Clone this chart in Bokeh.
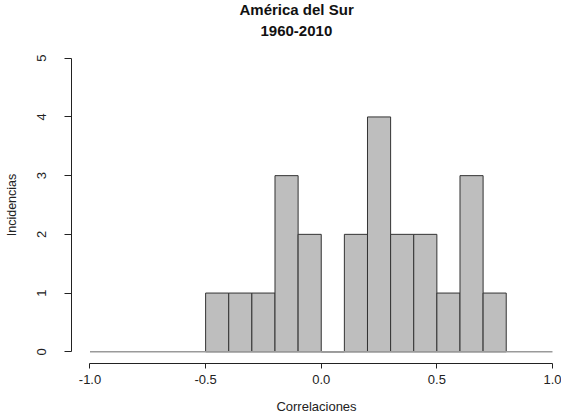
from bokeh.plotting import figure
from bokeh.models import Range1d, FixedTicker, Title
from bokeh.embed import file_html
from bokeh.resources import INLINE

# ---- data ----
bin_edges = [-0.5, -0.4, -0.3, -0.2, -0.1, 0.0, 0.1, 0.2, 0.3, 0.4, 0.5, 0.6, 0.7, 0.8]
counts = [1, 1, 1, 3, 2, 0, 2, 4, 2, 2, 1, 3, 1]
x_ticks = [-1.0, -0.5, 0.0, 0.5, 1.0]
x_tick_labels = ["-1.0", "-0.5", "0.0", "0.5", "1.0"]
y_ticks = [0, 1, 2, 3, 4, 5]
xlim = [-1.0, 1.0]
ylim = [0, 5]
title_lines = ["América del Sur", "1960-2010"]
xlab = "Correlaciones"
ylab = "Incidencias"

FONT = "Liberation Sans"
TXT = "#222222"

p = figure(width=561, height=417, output_backend="svg", toolbar_location=None,
           x_range=Range1d(-1.08, 1.039), y_range=Range1d(-0.2, 5.2),
           min_border_left=71, min_border_right=0, min_border_top=46, min_border_bottom=54,
           title=None)
p.outline_line_color = None
p.xgrid.visible = False
p.ygrid.visible = False
p.background_fill_color = "white"
p.border_fill_color = "white"

p.quad(left=bin_edges[:-1], right=bin_edges[1:], top=counts, bottom=0,
       fill_color="#BEBEBE", line_color="#333333", line_width=1)
p.segment(x0=[xlim[0]], y0=[0], x1=[xlim[1]], y1=[0], line_color="#9a9a9a", line_width=1.5)

# subtitle (nearest the frame) first, then main line above it
for line, so, off in ((title_lines[1], 22, 189), (title_lines[0], -10, 168)):
    p.add_layout(Title(text=line, align="left", offset=off, standoff=so,
                       text_font=FONT, text_font_size="15px", text_font_style="bold",
                       text_color="#111111"), "above")

xa = p.xaxis[0]
xa.ticker = FixedTicker(ticks=x_ticks)
xa.major_label_overrides = {t_: l for t_, l in zip(x_ticks, x_tick_labels)}
xa.bounds = (xlim[0], xlim[1])
xa.minor_tick_line_color = None
xa.major_tick_out = 5
xa.major_tick_in = 0
xa.major_label_standoff = 6
xa.major_label_text_font = FONT
xa.major_label_text_font_size = "13px"
xa.major_label_text_color = TXT
xa.axis_line_color = "#222222"
xa.major_tick_line_color = "#222222"
xa.axis_label = xlab
xa.axis_label_standoff = 12
xa.axis_label_text_font = FONT
xa.axis_label_text_font_size = "13px"
xa.axis_label_text_font_style = "normal"
xa.axis_label_text_color = TXT

ya = p.yaxis[0]
ya.ticker = FixedTicker(ticks=y_ticks)
ya.bounds = (ylim[0], ylim[1])
ya.minor_tick_line_color = None
ya.major_tick_out = 7
ya.major_tick_in = 0
ya.major_label_standoff = 18
ya.major_label_orientation = "vertical"
ya.major_label_text_font = FONT
ya.major_label_text_font_size = "13px"
ya.major_label_text_color = TXT
ya.axis_line_color = "#222222"
ya.major_tick_line_color = "#222222"
ya.axis_label = ylab
ya.axis_label_standoff = 16
ya.axis_label_text_font = FONT
ya.axis_label_text_font_size = "12.5px"
ya.axis_label_text_font_style = "normal"
ya.axis_label_text_color = TXT

open("out.html", "w").write(file_html(p, INLINE))
